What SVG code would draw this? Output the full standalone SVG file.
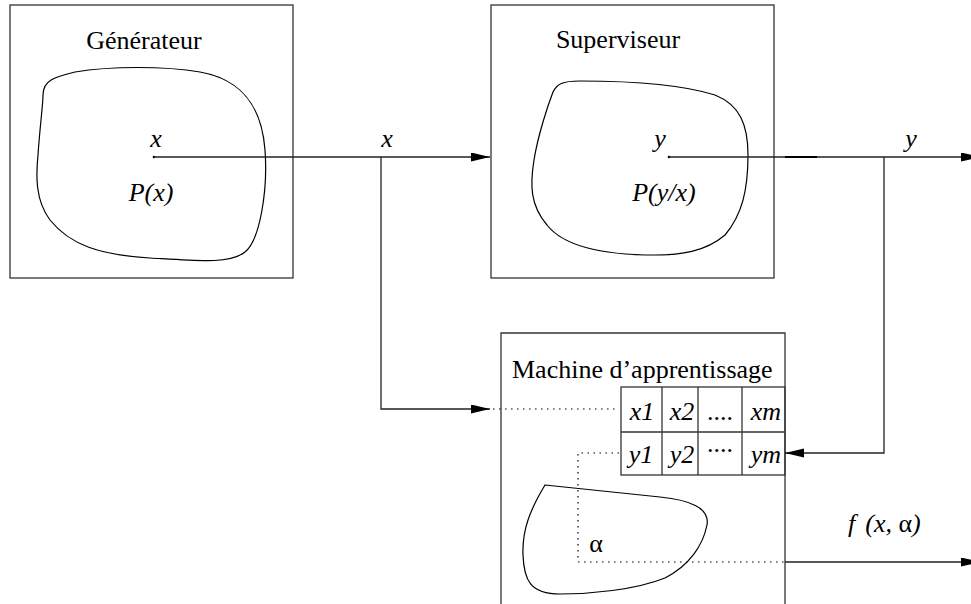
<svg xmlns="http://www.w3.org/2000/svg" width="971" height="604" viewBox="0 0 971 604">
<defs>
<marker id="arr" markerUnits="userSpaceOnUse" markerWidth="20" markerHeight="10" refX="19" refY="4.5" orient="auto">
<path d="M0,0 L19,4.5 L0,9 z" fill="#000"/>
</marker>
<style>
.box{fill:none;stroke:#333;stroke-width:1.3}
.blob{fill:none;stroke:#000;stroke-width:1.2}
.ln{fill:none;stroke:#222;stroke-width:1.3}
.dot{fill:none;stroke:#000;stroke-width:1.2;stroke-dasharray:1.5,4.5}
.t{font-family:'Liberation Serif','Times New Roman','DejaVu Serif',serif;font-size:26px;fill:#000}
.it{font-style:italic}
</style>
</defs>
<rect width="971" height="604" fill="#fff"/>
<g id="generateur">
<rect class="box" x="10" y="5" width="283" height="273"/>
<text class="t" x="144" y="49" text-anchor="middle">Générateur</text>
<path class="blob" d="M43,95 C43,80 55,77 75,72 C110,66 165,66 200,72 C245,80 262,110 265,150 C268,190 260,240 245,252 C230,264 200,261 150,258 C100,255 70,245 50,220 C35,200 36,175 38,155 C40,125 43,105 43,95 Z"/>
<circle cx="154" cy="157" r="1.3" fill="#000"/>
<text class="t it" x="156" y="147" text-anchor="middle">x</text>
<text class="t it" x="151" y="201" text-anchor="middle">P(x)</text>
</g>
<g id="superviseur">
<rect class="box" x="491" y="5" width="283" height="273"/>
<text class="t" x="618" y="48" text-anchor="middle">Superviseur</text>
<path class="blob" d="M553,92 C557,84 562,81 580,81 C630,81 680,84 715,95 C740,105 748,125 748,155 C748,190 742,215 725,235 C705,252 680,255 655,255 C610,255 565,248 547,225 C530,205 530,185 534,160 C538,135 548,105 553,92 Z"/>
<circle cx="669" cy="157" r="1.3" fill="#000"/>
<text class="t it" x="660" y="147" text-anchor="middle">y</text>
<text class="t it" x="664" y="201" text-anchor="middle">P(y/x)</text>
</g>
<g id="machine">
<path class="box" d="M501,604 V333 H785 V604"/>
<text class="t" x="512" y="378">Machine d’apprentissage</text>
<g class="box">
<rect x="621" y="387" width="164" height="88"/>
<line x1="621" y1="432" x2="785" y2="432"/>
<line x1="662" y1="387" x2="662" y2="475"/>
<line x1="698" y1="387" x2="698" y2="475"/>
<line x1="742" y1="387" x2="742" y2="475"/>
</g>
<text class="t it" x="642" y="420" text-anchor="middle">x1</text>
<text class="t it" x="682" y="420" text-anchor="middle">x2</text>
<text class="t" x="720" y="420" text-anchor="middle">....</text>
<text class="t it" x="766" y="420" text-anchor="middle">xm</text>
<text class="t it" x="641" y="463" text-anchor="middle">y1</text>
<text class="t it" x="682" y="463" text-anchor="middle">y2</text>
<text class="t" x="720" y="452" text-anchor="middle">....</text>
<text class="t it" x="766" y="463" text-anchor="middle">ym</text>
<path class="blob" d="M545,485 L660,497 C690,500 710,508 707,525 C703,545 690,565 665,578 C635,590 590,594 560,594 C530,594 524,580 523,555 C522,530 530,510 545,485 Z"/>
<text class="t" x="596" y="552" text-anchor="middle">α</text>
</g>
<g id="connectors">
<line class="ln" x1="154" y1="157" x2="490" y2="157" marker-end="url(#arr)"/>
<text class="t it" x="387" y="147" text-anchor="middle">x</text>
<polyline class="ln" points="381,157 381,409 490,409" marker-end="url(#arr)"/>
<line class="dot" x1="493" y1="409" x2="619" y2="409"/>
<line class="ln" x1="669" y1="157" x2="980" y2="157" marker-end="url(#arr)"/>
<line x1="785" y1="157" x2="817" y2="157" stroke="#000" stroke-width="2"/>
<text class="t it" x="911" y="147" text-anchor="middle">y</text>
<polyline class="ln" points="884,157 884,453 785,453" marker-end="url(#arr)"/>
<polyline class="dot" points="619,453 578,453 578,562 785,562"/>
<line class="ln" x1="785" y1="562" x2="980" y2="562" marker-end="url(#arr)"/>
<text class="t" x="848" y="532"><tspan class="it">f</tspan><tspan class="it" dx="10">(x, </tspan><tspan>α</tspan><tspan class="it">)</tspan></text>
</g>
</svg>
